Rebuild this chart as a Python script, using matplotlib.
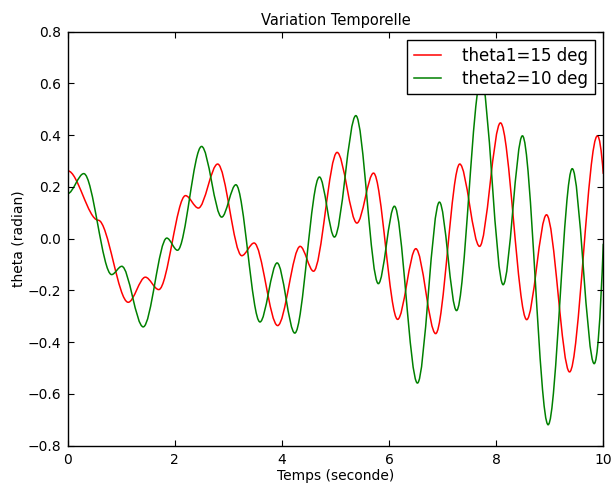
import numpy as np
import matplotlib
matplotlib.use("Agg")
import matplotlib.pyplot as plt
from matplotlib.path import Path
from matplotlib.patches import PathPatch
from matplotlib.lines import Line2D

# Turning points (time in s, angle in rad)
theta1_t = [0.0, 0.57, 1.13, 1.45, 1.70, 2.20, 2.44, 2.80, 3.25, 3.48, 3.92, 4.34, 4.59,
            5.03, 5.40, 5.71, 6.16, 6.50, 6.87, 7.32, 7.69, 8.08, 8.57, 8.94, 9.37, 9.89, 10.0]
theta1_v = [0.262, 0.071, -0.246, -0.149, -0.197, 0.166, 0.118, 0.288, -0.066, -0.017, -0.336,
            -0.030, -0.126, 0.333, 0.060, 0.253, -0.312, -0.039, -0.367, 0.288, -0.030, 0.447,
            -0.313, 0.092, -0.515, 0.397, 0.25]

theta2_t = [0.0, 0.30, 0.82, 1.01, 1.41, 1.85, 2.05, 2.50, 2.875, 3.14, 3.59, 3.91, 4.24,
            4.70, 4.98, 5.38, 5.80, 6.10, 6.53, 6.94, 7.26, 7.72, 8.13, 8.49, 8.97, 9.42,
            9.83, 10.0]
theta2_v = [0.174, 0.251, -0.139, -0.107, -0.341, 0.002, -0.045, 0.356, 0.083, 0.208, -0.322,
            -0.094, -0.365, 0.238, 0.006, 0.475, -0.174, 0.125, -0.558, 0.141, -0.278, 0.62,
            -0.178, 0.397, -0.719, 0.270, -0.483, -0.02]

labels = ["theta1=15 deg", "theta2=10 deg"]
colors = ["red", "green"]

x_ticks = [0, 2, 4, 6, 8, 10]
y_ticks = [-0.8, -0.6, -0.4, -0.2, 0.0, 0.2, 0.4, 0.6, 0.8]


def smooth_path(t, v):
    t = np.asarray(t, float)
    v = np.asarray(v, float)
    m = np.zeros(len(t))
    m[-1] = 2 * (v[-1] - v[-2]) / (t[-1] - t[-2])
    verts = [(t[0], v[0])]
    codes = [Path.MOVETO]
    for i in range(len(t) - 1):
        dt = t[i + 1] - t[i]
        verts += [(t[i] + dt / 3, v[i] + m[i] * dt / 3),
                  (t[i + 1] - dt / 3, v[i + 1] - m[i + 1] * dt / 3),
                  (t[i + 1], v[i + 1])]
        codes += [Path.CURVE4] * 3
    return Path(verts, codes)


W, H = 611, 483
fig = plt.figure(figsize=(W / 100, H / 100), dpi=100)
ax = fig.add_axes([67.7 / W, 1 - 445.7 / H, (603.3 - 67.7) / W, (445.7 - 31.5) / H])

for t, v, c in [(theta1_t, theta1_v, colors[0]), (theta2_t, theta2_v, colors[1])]:
    ax.add_patch(PathPatch(smooth_path(t, v), fill=False, edgecolor=c, lw=1.1))

ax.set_xlim(0, 10)
ax.set_ylim(-0.8, 0.8)
ax.set_xticks(x_ticks)
ax.set_yticks(y_ticks)
ax.set_xticklabels([str(x) for x in x_ticks])
ax.set_yticklabels([f"{y:.1f}".replace("-", "\u2212") for y in y_ticks])
ax.tick_params(direction="in", top=True, right=True, length=4, width=0.8,
               labelsize=10, pad=5, colors="black")
for s in ax.spines.values():
    s.set_linewidth(1.0)
    s.set_color("black")

ax.set_title("Variation Temporelle", fontsize=10.5, pad=5)
ax.set_xlabel("Temps (seconde)", fontsize=10, labelpad=2)
ax.set_ylabel("theta (radian)", fontsize=10, labelpad=1)

handles = [Line2D([], [], color=c, lw=1.1) for c in colors]
leg = ax.legend(handles, labels, loc="upper right", fontsize=12, fancybox=False,
                framealpha=1, edgecolor="black", handlelength=1.6, handletextpad=1.3,
                borderaxespad=0.5, borderpad=0.4, labelspacing=0.3)
leg.get_frame().set_linewidth(1.0)

fig.savefig("out.png", dpi=100)
